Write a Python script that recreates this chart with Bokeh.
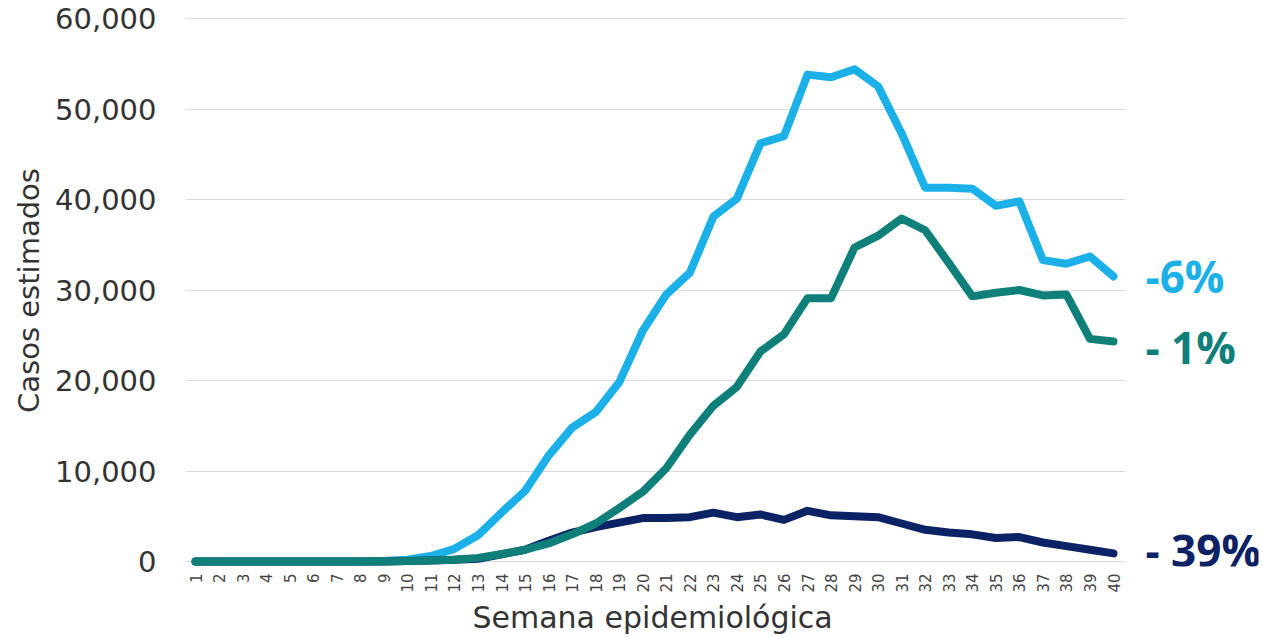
from bokeh.plotting import figure
from bokeh.models import FixedTicker, NumeralTickFormatter, Range1d, Title
from bokeh.embed import file_html
from bokeh.resources import INLINE

weeks = list(range(1, 41))

# Casos estimados por semana epidemiológica
serie_azul = [0, 0, 0, 0, 0, 0, 0, 0, 50, 200, 600, 1400, 2900, 5400, 7800, 11700,
              14800, 16500, 19800, 25500, 29500, 31900, 38100, 40100, 46200, 47000,
              53800, 53500, 54400, 52500, 47300, 41300, 41300, 41200, 39300, 39800,
              33300, 32900, 33700, 31500]
serie_verde = [0, 0, 0, 0, 0, 0, 0, 0, 0, 50, 100, 200, 400, 800, 1300, 2000,
               3000, 4200, 5900, 7700, 10300, 14000, 17200, 19300, 23200, 25100,
               29100, 29100, 34700, 36000, 37900, 36600, 33000, 29300, 29700, 30000,
               29400, 29500, 24600, 24300]
serie_marino = [0, 0, 0, 0, 0, 0, 0, 0, 0, 50, 100, 200, 300, 800, 1300, 2300,
                3200, 3800, 4300, 4800, 4800, 4900, 5400, 4900, 5200, 4600,
                5600, 5100, 5000, 4900, 4200, 3500, 3200, 3000, 2600, 2700,
                2100, 1700, 1300, 900]
etiquetas = ["-6%", "- 1%", "- 39%"]
y_ticks = [0, 10000, 20000, 30000, 40000, 50000, 60000]

colores = ["#1cb0e9", "#0e7f79", "#0b2265"]
series = [serie_azul, serie_verde, serie_marino]
label_dy = [0, -5, 3]  # pixel nudges for end labels
draw_order = [0, 2, 1]  # teal drawn on top

GRID_X = (0.575, 40.51)

p = figure(width=1263, height=637, output_backend="svg", toolbar_location=None,
           x_range=Range1d(0.575, 46.16), y_range=Range1d(-552, 60442),
           min_border_left=185, min_border_right=5, min_border_top=14,
           min_border_bottom=71)
p.outline_line_color = None
p.background_fill_color = "white"
p.border_fill_color = "white"

p.xgrid.grid_line_color = None
p.ygrid.ticker = FixedTicker(ticks=y_ticks)
p.ygrid.grid_line_color = "#dadada"
p.ygrid.grid_line_width = 1.2
try:
    p.ygrid.cross_bounds = GRID_X
except Exception:
    p.ygrid.grid_line_color = None
    p.segment(x0=[GRID_X[0]] * len(y_ticks), x1=[GRID_X[1]] * len(y_ticks),
              y0=y_ticks, y1=y_ticks, line_color="#dadada", line_width=1.2)

p.yaxis.ticker = FixedTicker(ticks=y_ticks)
p.yaxis.formatter = NumeralTickFormatter(format="0,0")
p.yaxis.axis_line_color = None
p.yaxis.major_tick_line_color = None
p.yaxis.minor_tick_line_color = None
p.yaxis.major_label_text_font = "DejaVu Sans"
p.yaxis.major_label_text_font_size = "29px"
p.yaxis.major_label_text_color = "#333333"
p.yaxis.major_label_standoff = 23
p.yaxis.axis_label = "Casos estimados"
p.yaxis.axis_label_text_font = "DejaVu Sans"
p.yaxis.axis_label_text_font_size = "29px"
p.yaxis.axis_label_text_font_style = "normal"
p.yaxis.axis_label_text_color = "#333333"
p.yaxis.axis_label_standoff = 6

p.xaxis.ticker = FixedTicker(ticks=weeks)
p.xaxis.axis_line_color = None
p.xaxis.major_tick_line_color = None
p.xaxis.minor_tick_line_color = None
p.xaxis.major_label_orientation = 1.5708
p.xaxis.major_label_text_font = "DejaVu Sans"
p.xaxis.major_label_text_font_size = "15px"
p.xaxis.major_label_text_color = "#444444"
p.xaxis.major_label_standoff = 1

p.add_layout(Title(text="Semana epidemiológica", align="left", offset=287,
                   text_font="DejaVu Sans", text_font_size="30px",
                   text_font_style="normal", text_color="#333333",
                   standoff=4), "below")

for i in draw_order:
    p.line(weeks, series[i], line_color=colores[i], line_width=8,
           line_join="round", line_cap="round")

for s, c, t, dy in zip(series, colores, etiquetas, label_dy):
    p.text(x=[weeks[-1]], y=[s[-1]], text=[t], x_offset=32, y_offset=-dy,
           text_font={"value": "Open Sans"}, text_font_style="bold",
           text_font_size="44px", text_color=c,
           text_baseline="middle", text_align="left")

open("out.html", "w").write(file_html(p, INLINE))
